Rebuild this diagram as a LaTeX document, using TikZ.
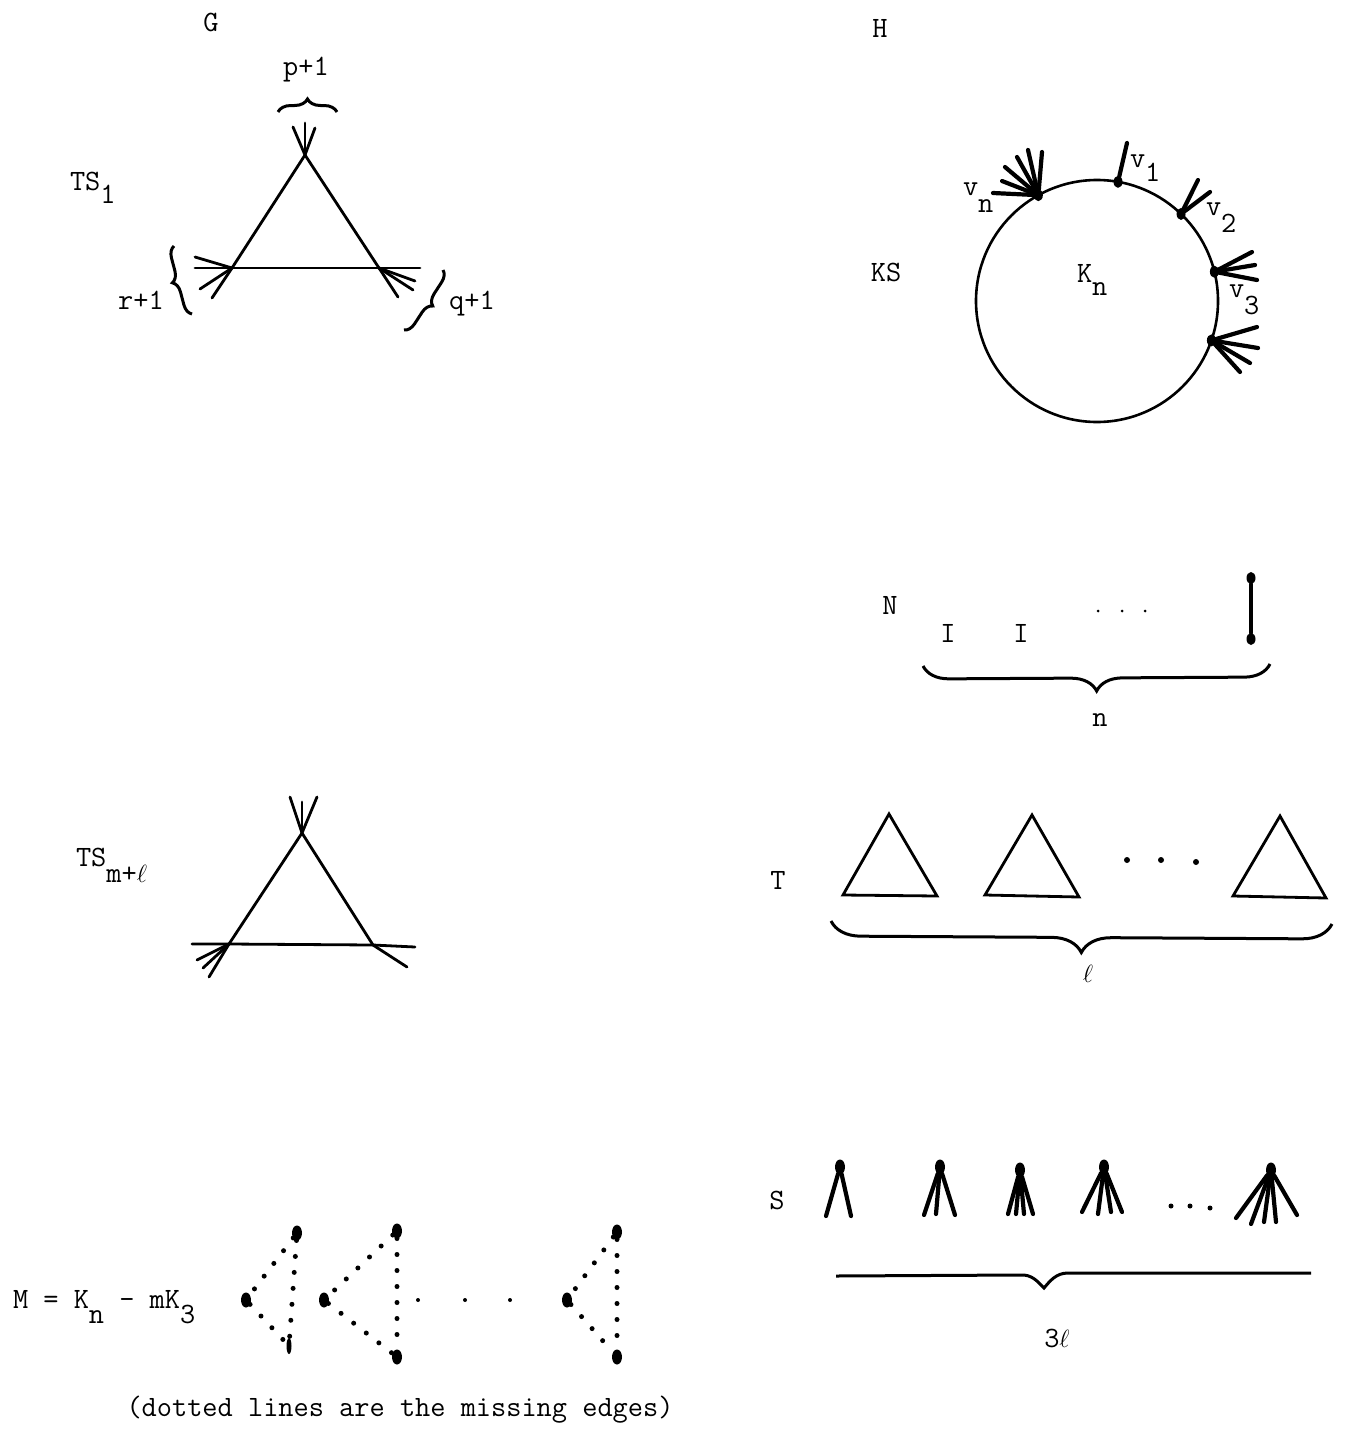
\documentclass[tikz,border=0pt]{standalone}
\usepackage{fontspec}
\usetikzlibrary{shapes.geometric,decorations.pathreplacing}
\newcommand{\lowsub}[2][15pt]{\raisebox{-#1}{#2}}
\begin{document}
\begin{tikzpicture}[x=1pt,y=-1pt,
  every node/.style={inner sep=0pt,outer sep=0pt},
  lbl/.style={font=\ttfamily\fontsize{29.5}{33}\selectfont},
  edge/.style={line width=2.8pt,line cap=round},
  fan/.style={line width=4.2pt,line cap=round},
  blob/.style={ellipse,fill=black,minimum width=9pt,minimum height=12pt},
  bigblob/.style={ellipse,fill=black,minimum width=10pt,minimum height=15pt},
  sdot/.style={circle,fill=black,minimum size=#1},
  brc/.style={decorate,decoration={brace,amplitude=#1},line width=3pt},
  missing/.style={line width=5pt,line cap=round,dash pattern=on 0pt off 16pt}]
\useasboundingbox (0,0) rectangle (1345,1435);

% ---------------- G : TS_1 ----------------
\node[lbl] (lG) at (211,22) {G};
\node[lbl,anchor=base west] (lTS1) at (70,190) {TS\lowsub[13pt]{1}};
\coordinate (ga) at (305,155);
\coordinate (gb) at (232,268);
\coordinate (gc) at (379,268);
\coordinate (gbx) at (212,298);
\coordinate (gcx) at (398,297);
\coordinate (gh1) at (195,268);
\coordinate (gh2) at (420,268);
\draw[edge] (ga) -- (gb) -- (gbx);
\draw[edge] (ga) -- (gc) -- (gcx);
\draw[edge] (gh1) -- (gb) -- (gc) -- (gh2);
\foreach \x/\y [count=\i] in {293/127,305/123,315/128}
  {\coordinate (gaf\i) at (\x,\y); \draw[edge] (ga) -- (gaf\i);}
\foreach \x/\y [count=\i] in {195/257,200/289}
  {\coordinate (gbf\i) at (\x,\y); \draw[edge] (gb) -- (gbf\i);}
\foreach \x/\y [count=\i] in {415/281,413/290}
  {\coordinate (gcf\i) at (\x,\y); \draw[edge] (gc) -- (gcf\i);}
\coordinate (pbl) at (278,112); \coordinate (pbr) at (337,112);
\draw[brc=13pt] (pbl) -- (pbr);
\node[lbl] (lp) at (306,70) {p+1};
\coordinate (rbb) at (192,314); \coordinate (rbt) at (174,246);
\draw[brc=11pt] (rbb) -- (rbt);
\node[lbl] (lr) at (141,300) {r+1};
\coordinate (qbt) at (443,270); \coordinate (qbb) at (404,330);
\draw[brc=11pt] (qbt) -- (qbb);
\node[lbl] (lq) at (472,304) {q+1};

% ---------------- H : KS ----------------
\node[lbl] (lH) at (880,28) {H};
\node[lbl] (lKS) at (886,272) {KS};
\node[draw,circle,line width=2.6pt,minimum size=242pt] (kn) at (1097,301) {};
\node[lbl,anchor=base west] (lKn) at (1077,282) {K\lowsub[13pt]{n}};
\node[blob] (vn) at (kn.119) {};
\node[blob] (v1) at (kn.80.5) {};
\node[blob] (v2) at (kn.46.7) {};
\node[blob] (v3) at (kn.14) {};
\node[blob] (v4) at (kn.-19) {};
\foreach \x/\y [count=\i] in {993/193,1002/181,1005/167,1017/157,1028/150,1042/152}
  {\coordinate (vnf\i) at (\x,\y); \draw[fan] (vn) -- (vnf\i);}
\coordinate (v1f1) at (1127,143); \draw[fan] (v1) -- (v1f1);
\foreach \x/\y [count=\i] in {1198/180,1210/192}
  {\coordinate (v2f\i) at (\x,\y); \draw[fan] (v2) -- (v2f\i);}
\foreach \x/\y [count=\i] in {1252/252,1255/265,1257/280}
  {\coordinate (v3f\i) at (\x,\y); \draw[fan] (v3) -- (v3f\i);}
\foreach \x/\y [count=\i] in {1257/327,1258/348,1250/363,1240/372}
  {\coordinate (v4f\i) at (\x,\y); \draw[fan] (v4) -- (v4f\i);}
\node[lbl,anchor=base west] (lvn) at (963,195) {v\lowsub[17pt]{n}};
\node[lbl,anchor=base west] (lv1) at (1130,167) {v\lowsub[14pt]{1}};
\node[lbl,anchor=base west] (lv2) at (1206,215) {v\lowsub[17pt]{2}};
\node[lbl,anchor=base west] (lv3) at (1229,297) {v\lowsub[17pt]{3}};

% ---------------- N ----------------
\node[lbl] (lN) at (890,605) {N};
\node[lbl] (lI1) at (948,633) {I};
\node[lbl] (lI2) at (1021,633) {I};
\node[sdot=3pt] (nd1) at (1098,611) {};
\node[sdot=3pt] (nd2) at (1122,611) {};
\node[sdot=3pt] (nd3) at (1145,611) {};
\node[blob] (ne1) at (1251,578) {};
\node[blob] (ne2) at (1251,639) {};
\draw[fan] (ne1) -- (ne2);
\coordinate (nbr) at (1270,664); \coordinate (nbl) at (923,666);
\draw[brc=26pt] (nbr) -- (nbl);
\node[lbl] (ln) at (1100,720) {n};

% ---------------- TS_{m+l} ----------------
\node[lbl,anchor=base west] (lTSm) at (76,866) {TS\lowsub[16pt]{m+$\ell$}};
\coordinate (ta) at (302,833);
\coordinate (tb) at (229,944);
\coordinate (tc) at (373,945);
\coordinate (tbx) at (209,977);
\coordinate (th1) at (192,944);
\coordinate (th2) at (415,947);
\draw[edge] (ta) -- (tb) -- (tbx);
\draw[edge] (ta) -- (tc);
\draw[edge] (th1) -- (tb) -- (tc) -- (th2);
\foreach \x/\y [count=\i] in {290/797,302/802,317/797}
  {\coordinate (taf\i) at (\x,\y); \draw[edge] (ta) -- (taf\i);}
\foreach \x/\y [count=\i] in {197/960,203/968}
  {\coordinate (tbf\i) at (\x,\y); \draw[edge] (tb) -- (tbf\i);}
\coordinate (tcf1) at (407,967); \draw[edge] (tc) -- (tcf1);

% ---------------- T ----------------
\node[lbl] (lT) at (778,880) {T};
\coordinate (k1a) at (889,814); \coordinate (k1b) at (843,895); \coordinate (k1c) at (937,896);
\coordinate (k2a) at (1032,815); \coordinate (k2b) at (985,895); \coordinate (k2c) at (1079,897);
\coordinate (k3a) at (1280,816); \coordinate (k3b) at (1233,896); \coordinate (k3c) at (1326,898);
\draw[edge] (k1a) -- (k1b) -- (k1c) -- cycle;
\draw[edge] (k2a) -- (k2b) -- (k2c) -- cycle;
\draw[edge] (k3a) -- (k3b) -- (k3c) -- cycle;
\node[sdot=6pt] (td1) at (1127,860) {};
\node[sdot=6pt] (td2) at (1161,860) {};
\node[sdot=6pt] (td3) at (1196,862) {};
\coordinate (tbr) at (1332,924); \coordinate (tbl) at (831,921);
\draw[brc=30pt] (tbr) -- (tbl);
\node[lbl] (lell) at (1088,974) {$\ell$};

% ---------------- S ----------------
\node[lbl] (lS) at (777,1200) {S};
\node[bigblob] (s1) at (840,1167) {};
\node[bigblob] (s2) at (940,1167) {};
\node[bigblob] (s3) at (1020,1170) {};
\node[bigblob] (s4) at (1104,1167) {};
\node[bigblob] (s5) at (1271,1170) {};
\foreach \x/\y [count=\i] in {826/1216,851/1216}
  {\coordinate (s1f\i) at (\x,\y); \draw[fan] (s1) -- (s1f\i);}
\foreach \x/\y [count=\i] in {924/1215,936/1214,955/1215}
  {\coordinate (s2f\i) at (\x,\y); \draw[fan] (s2) -- (s2f\i);}
\foreach \x/\y [count=\i] in {1008/1214,1016/1214,1024/1214,1033/1214}
  {\coordinate (s3f\i) at (\x,\y); \draw[fan] (s3) -- (s3f\i);}
\foreach \x/\y [count=\i] in {1082/1212,1098/1214,1111/1212,1122/1212}
  {\coordinate (s4f\i) at (\x,\y); \draw[fan] (s4) -- (s4f\i);}
\foreach \x/\y [count=\i] in {1236/1218,1251/1224,1264/1222,1276/1222,1297/1215}
  {\coordinate (s5f\i) at (\x,\y); \draw[fan] (s5) -- (s5f\i);}
\node[sdot=5pt] (sd1) at (1171,1206) {};
\node[sdot=5pt] (sd2) at (1190,1206) {};
\node[sdot=5pt] (sd3) at (1210,1208) {};
\coordinate (sb1) at (836,1276); \coordinate (sb2) at (1020,1275);
\coordinate (sbt) at (1044,1288); \coordinate (sb3) at (1068,1273);
\coordinate (sb4) at (1311,1273);
\draw[line width=3pt] (sb1) -- (sb2) .. controls (1032,1274) and (1038,1282) .. (sbt)
  .. controls (1050,1281) and (1056,1273) .. (sb3) -- (sb4);
\node[lbl] (l3l) at (1057,1338) {3$\ell$};

% ---------------- M ----------------
\node[lbl,anchor=base west] (lM) at (13,1308) {M = K\lowsub[15pt]{n} - mK\lowsub[15pt]{3}};
\node[bigblob] (m1a) at (297,1233) {};
\node[bigblob] (m1b) at (246,1300) {};
\node[ellipse,fill=black,minimum width=5pt,minimum height=16pt] (m1c) at (289,1346) {};
\draw[missing] (m1a) -- (m1b);
\draw[missing] (m1b) -- (m1c);
\draw[missing] (m1a) -- (m1c);
\node[bigblob] (m2a) at (397,1231) {};
\node[bigblob] (m2b) at (324,1300) {};
\node[bigblob] (m2c) at (397,1357) {};
\draw[missing] (m2a) -- (m2b);
\draw[missing] (m2b) -- (m2c);
\draw[missing] (m2a) -- (m2c);
\node[sdot=4pt] (md1) at (418,1300) {};
\node[sdot=4pt] (md2) at (465,1300) {};
\node[sdot=4pt] (md3) at (510,1300) {};
\node[bigblob] (m3a) at (617,1232) {};
\node[bigblob] (m3b) at (567,1300) {};
\node[bigblob] (m3c) at (617,1357) {};
\draw[missing] (m3a) -- (m3b);
\draw[missing] (m3b) -- (m3c);
\draw[missing] (m3a) -- (m3c);
\node[lbl] (cap) at (400,1410) {(dotted lines are the missing edges)};
\end{tikzpicture}
\end{document}
